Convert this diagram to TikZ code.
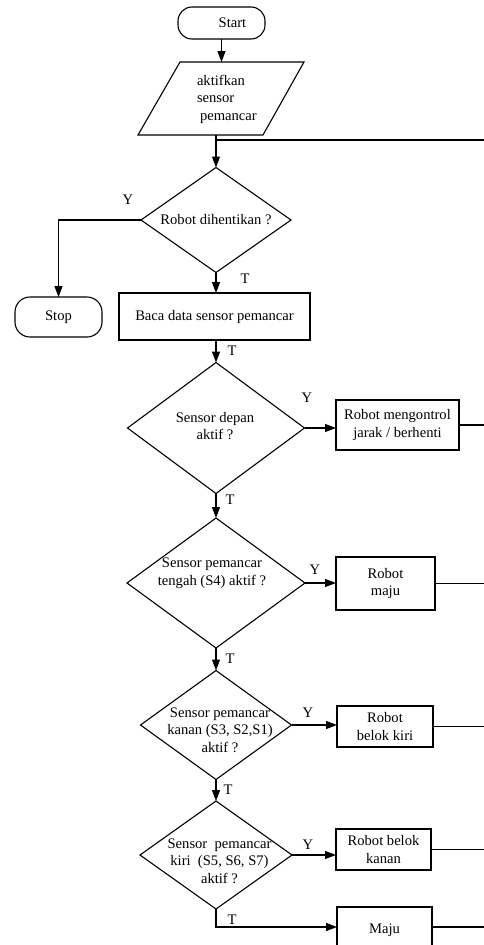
\documentclass[tikz,border=0pt]{standalone}
\usepackage{fontspec}
\setmainfont{Liberation Serif}
\usetikzlibrary{shapes.geometric,arrows.meta}
\begin{document}
\begin{tikzpicture}[x=1pt,y=-1pt,
  line width=1.1pt,
  base/.style={font=\fontsize{14.6}{17.5}\selectfont, outer sep=0pt, inner sep=0pt},
  term/.style={base, draw, rectangle, rounded corners=14pt},
  proc/.style={base, draw, rectangle, align=center},
  dec/.style={base, draw, diamond},
  txt/.style={base, align=center},
  lbl/.style={base},
  arr/.style={-{Triangle[length=11pt,width=8pt]}}
]
\useasboundingbox (0,0) rectangle (484,945);
\coordinate (R) at (484,0);

% start
\node[term, minimum width=87pt, minimum height=32pt] (start) at (221.5,23) {\hspace*{22pt}Start};

% input parallelogram
\coordinate (p1) at (180,62);
\coordinate (p2) at (304,62);
\coordinate (p3) at (263,135);
\coordinate (p4) at (138,135);
\draw (p1) -- (p2) -- (p3) -- (p4) -- cycle;
\node[txt, align=left, anchor=west] (inp) at (197,99) {aktifkan\\sensor\\\hspace*{3pt}pemancar};
\coordinate (inpT) at (221.5,62);
\coordinate (inpB) at (216,135);

% decision 1
\node[dec, minimum width=150pt, minimum height=105pt] (d1) at (216,220) {};
\node[txt] (d1t) at (d1.center) {Robot dihentikan ?};

\node[term, minimum width=87pt, minimum height=40pt, rounded corners=15pt] (stop) at (58.5,317) {Stop};
\node[proc, minimum width=191pt, minimum height=47pt] (baca) at (214.5,316.5) {Baca data sensor pemancar};

% decision 2
\node[dec, minimum width=177pt, minimum height=131pt] (d2) at (216,428) {};
\node[txt] (d2t) at (215,426) {Sensor depan\\aktif ?};
\node[proc, minimum width=123pt, minimum height=50pt] (b2) at (397.5,425) {Robot mengontrol\\jarak / berhenti};

% decision 3
\node[dec, minimum width=178pt, minimum height=130pt] (d3) at (216,583) {};
\node[txt] (d3t) at (212,573) {Sensor pemancar\\tengah (S4) aktif ?};
\node[proc, minimum width=99pt, minimum height=53pt] (b3) at (385.5,583.5) {Robot\\maju};

% decision 4
\node[dec, minimum width=151pt, minimum height=109pt] (d4) at (216,725) {};
\node[txt] (d4t) at (220,730) {Sensor pemancar\\kanan (S3, S2,S1)\\aktif ?};
\node[proc, minimum width=96pt, minimum height=41pt] (b4) at (385,726.5) {Robot\\belok kiri};

% decision 5
\node[dec, minimum width=152pt, minimum height=108pt] (d5) at (216,855) {};
\node[txt] (d5t) at (219.5,861) {Sensor\ \ pemancar\\kiri\ \ (S5, S6, S7)\\aktif ?};
\node[proc, minimum width=95pt, minimum height=41pt] (b5) at (383.5,849.5) {Robot belok\\kanan};

\node[proc, minimum width=95pt, minimum height=46pt] (maju) at (384.5,930) {\raisebox{3pt}{Maju}};
\coordinate (majuIn) at (337,927);

% labels
\node[lbl] (y1) at (128,200) {Y};
\node[lbl] (t1) at (245,279) {T};
\node[lbl] (t2) at (232,351) {T};
\node[lbl] (y2) at (307,398) {Y};
\node[lbl] (t3) at (230,500) {T};
\node[lbl] (y3) at (315,570) {Y};
\node[lbl] (t4) at (230,659) {T};
\node[lbl] (y4) at (308,713) {Y};
\node[lbl] (t5) at (228,790) {T};
\node[lbl] (y5) at (308,845) {Y};
\node[lbl] (t6) at (232,920) {T};

% connectors
\draw[arr] (start.south) -- (inpT);
\draw[arr] (inpB) -- (d1.north);
\draw (d1.north |- 0,140) -- (R |- 0,140);
\draw[arr] (d1.west) -| (stop.north);
\draw[arr] (d1.south) -- (d1.south |- baca.north);
\draw[arr] (d2.north |- baca.south) -- (d2.north);
\draw[arr] (d2.east) -- (b2.west |- d2.east);
\draw (b2.east) -- (b2.east -| R);
\draw[arr] (d2.south) -- (d3.north);
\draw[arr] (d3.east) -- (b3.west |- d3.east);
\draw (b3.east) -- (b3.east -| R);
\draw[arr] (d3.south) -- (d4.north);
\draw[arr] (d4.east) -- (b4.west |- d4.east);
\draw (b4.east) -- (b4.east -| R);
\draw[arr] (d4.south) -- (d5.north);
\draw[arr] (d5.east) -- (b5.west |- d5.east);
\draw (b5.east) -- (b5.east -| R);
\draw[arr] (d5.south) |- (majuIn);
\draw (majuIn -| maju.east) -- (majuIn -| R);
\end{tikzpicture}
\end{document}
